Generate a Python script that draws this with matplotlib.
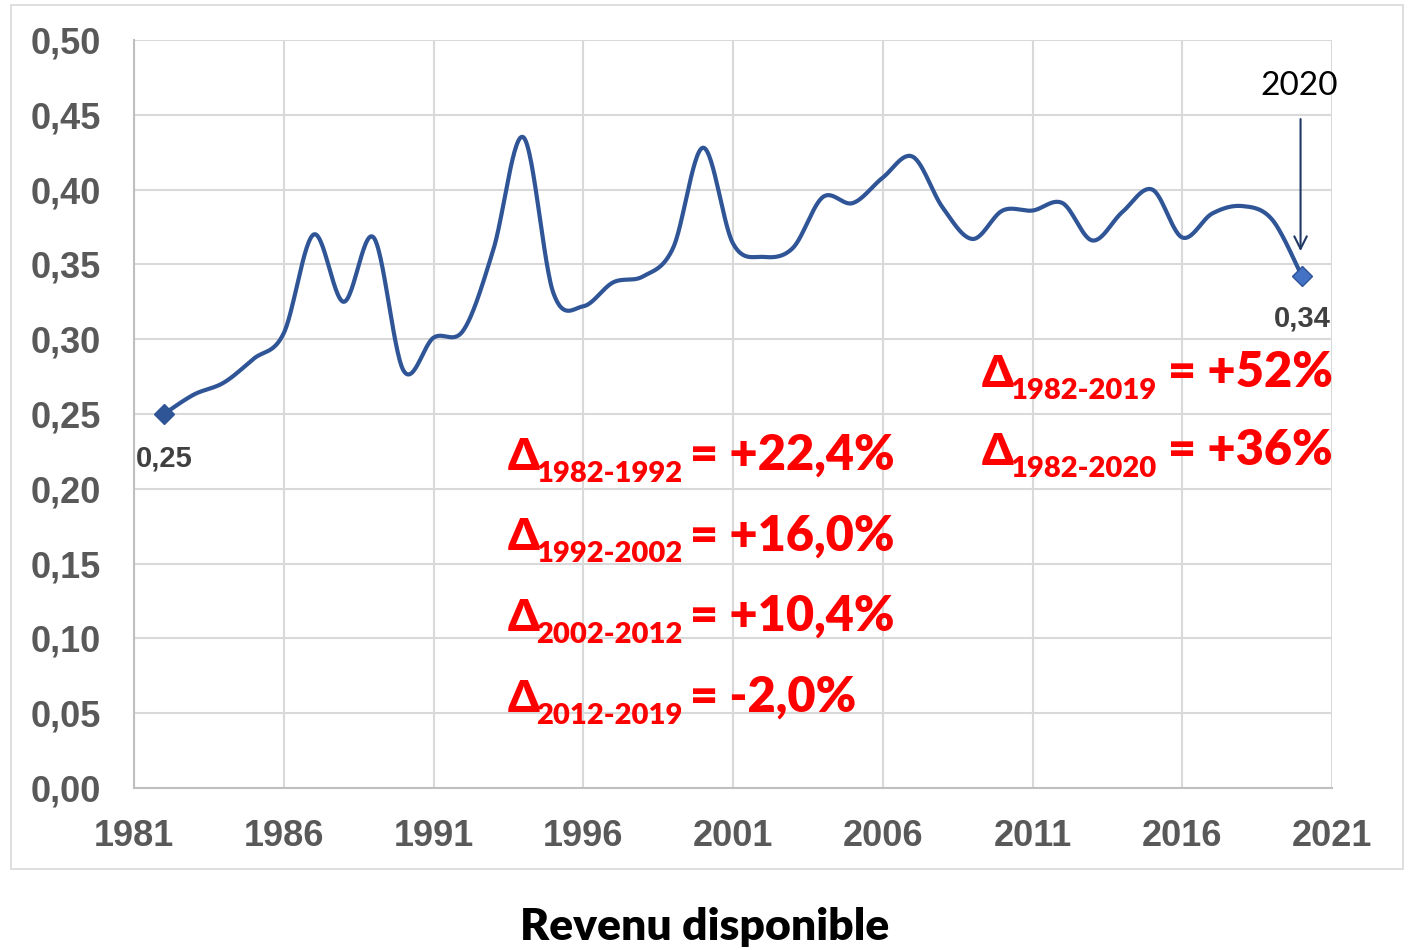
import numpy as np
import matplotlib.pyplot as plt
from matplotlib.patches import Rectangle
from matplotlib.ticker import FuncFormatter, MultipleLocator

# ---- data ----
years = list(range(1982, 2021))
revenu = [0.250, 0.263, 0.271, 0.287, 0.304, 0.370, 0.325, 0.368, 0.279, 0.301,
          0.306, 0.360, 0.435, 0.331, 0.322, 0.338, 0.342, 0.361, 0.428, 0.364,
          0.355, 0.361, 0.395, 0.391, 0.408, 0.422, 0.388, 0.367, 0.386, 0.386,
          0.391, 0.366, 0.385, 0.400, 0.368, 0.384, 0.389, 0.380, 0.342]
xticks = list(range(1981, 2022, 5))
deltas_left = [("1982-1992", "= +22,4%"), ("1992-2002", "= +16,0%"),
               ("2002-2012", "= +10,4%"), ("2012-2019", "= -2,0%")]
deltas_right = [("1982-2019", "= +52%"), ("1982-2020", "= +36%")]
label_first, label_last = "0,25", "0,34"
title = "Revenu disponible"

W, H = 1409, 950
LINE = "#2F5597"
RED = "#FF0000"
TICK = "#595959"
GEO = ["Lato", "DejaVu Sans"]


def smooth(x, y, n=30):
    """Excel-style smoothed line (Catmull-Rom through the points)."""
    x = np.asarray(x, float); y = np.asarray(y, float)
    px = np.r_[x[0], x, x[-1]]; py = np.r_[y[0], y, y[-1]]
    xs, ys = [], []
    t = np.linspace(0, 1, n, endpoint=False)
    for i in range(1, len(px) - 2):
        p0, p1, p2, p3 = (np.array([px[j], py[j]]) for j in (i - 1, i, i + 1, i + 2))
        c1 = p1 + (p2 - p0) / 6
        c2 = p2 - (p3 - p1) / 6
        b = ((1 - t) ** 3)[:, None] * p1 + (3 * (1 - t) ** 2 * t)[:, None] * c1 \
            + (3 * (1 - t) * t ** 2)[:, None] * c2 + (t ** 3)[:, None] * p2
        xs.append(b[:, 0]); ys.append(b[:, 1])
    xs.append([x[-1]]); ys.append([y[-1]])
    return np.concatenate(xs), np.concatenate(ys)


def fx(px):
    return px / W


def fy(py):
    return 1 - py / H


fig = plt.figure(figsize=(W / 100, H / 100), dpi=100)
fig.patches.append(Rectangle((fx(11), fy(869)), fx(1392), 864 / H, transform=fig.transFigure,
                             fill=False, edgecolor="#D9D9D9", linewidth=1.2))

ax = fig.add_axes([fx(134), fy(788), fx(1332 - 134), (788 - 40) / H])
ax.set_xlim(1981, 2021)
ax.set_ylim(0, 0.5)
ax.set_xticks(xticks)
ax.yaxis.set_major_locator(MultipleLocator(0.05))
ax.yaxis.set_major_formatter(FuncFormatter(lambda v, _: f"{v:.2f}".replace(".", ",")))
ax.grid(True, color="#D9D9D9", linewidth=1.5)
ax.set_axisbelow(True)
for s in ("top", "right"):
    ax.spines[s].set_visible(False)
for s in ("left", "bottom"):
    ax.spines[s].set_color("#BFBFBF")
    ax.spines[s].set_linewidth(1.5)
ax.tick_params(length=0, labelcolor=TICK)
ax.tick_params(axis="x", pad=22)
ax.tick_params(axis="y", pad=24)
for lab in ax.get_xticklabels() + ax.get_yticklabels():
    lab.set_fontfamily("Liberation Sans"); lab.set_fontweight("bold"); lab.set_fontsize(26)

sx, sy = smooth(years, revenu)
ax.plot(sx, sy, color=LINE, linewidth=3, solid_capstyle="round")
ax.plot(years[0], revenu[0], marker="D", markersize=10, color=LINE, zorder=5)
ax.plot(years[-1], revenu[-1], marker="D", markersize=10, color="#4472C4",
        markeredgecolor=LINE, markeredgewidth=1, zorder=5)

fig.text(fx(164), fy(458), label_first, ha="center", va="center", fontsize=21,
         fontweight="bold", color="#404040", family="Liberation Sans")
fig.text(fx(1302), fy(318), label_last, ha="center", va="center", fontsize=21,
         fontweight="bold", color="#404040", family="Liberation Sans")

# arrow + "2020"
ax.annotate("", xy=(years[-1] - 0.05, 0.357), xytext=(years[-1] - 0.05, 0.449),
            arrowprops=dict(arrowstyle="->,head_length=0.9,head_width=0.45",
                            color="#1F3864", linewidth=1.5))
fig.text(fx(1299), fy(86), "2020", ha="center", va="center", fontsize=24,
         family=GEO, color="black")


def delta(x0, xs_, xe, yb, period, txt):
    fig.text(fx(x0), fy(yb), "Δ", fontsize=32, fontweight="heavy", color=RED,
             family=GEO, va="baseline")
    fig.text(fx(xs_), fy(yb + 12), period, fontsize=21, fontweight="heavy", color=RED,
             family=GEO, va="baseline")
    fig.text(fx(xe), fy(yb), txt, fontsize=35, fontweight="heavy", color=RED,
             family=GEO, va="baseline")


for i, (p, t) in enumerate(deltas_left):
    delta(508, 536, 690, 470 + i * 80.5, p, t)
for i, (p, t) in enumerate(deltas_right):
    delta(982, 1010, 1168, 387 + i * 78, p, t)

fig.text(0.5, fy(927), title, ha="center", va="center", fontsize=32,
         fontweight="heavy", family=GEO, color="black")

fig.savefig("out.png", dpi=100)
